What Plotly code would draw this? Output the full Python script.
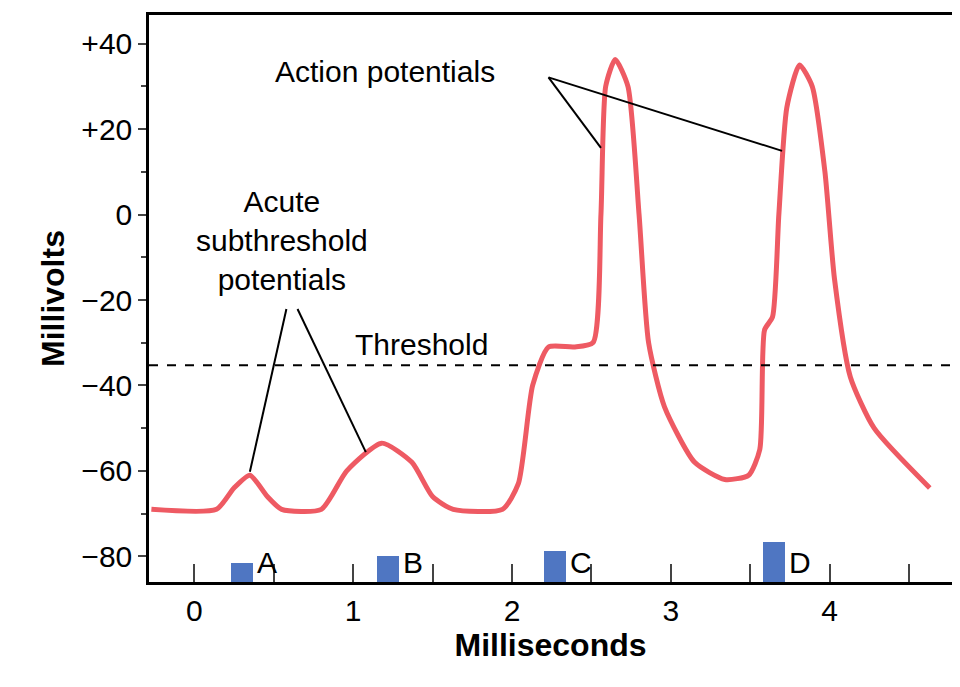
import plotly.graph_objects as go

trace_x = [-0.27,0.14,0.25,0.35,0.46,0.55,0.80,0.96,1.18,1.37,1.5,1.63,1.94,2.04,2.13,2.23,2.39,2.51,2.56,2.59,2.65,2.73,2.80,2.86,2.96,3.15,3.34,3.49,3.56,3.59,3.64,3.68,3.73,3.81,3.89,3.97,4.03,4.13,4.28,4.63]
trace_y = [-69,-69,-64,-61,-66,-69,-69,-60,-53.5,-58,-66,-69,-69,-63,-40,-31,-31,-30,0,30,36.3,30,0,-30,-45,-58,-62,-61,-55,-27,-24,0,25,35,30,10,-15,-38,-50,-64]
stim_x = [0.30,1.22,2.27,3.65]
stim_top = [-81.6,-80,-78.8,-76.7]
stim_labels = ["A","B","C","D"]
base = -86
threshold = -35.3

F = "Liberation Sans, Arial"
fig = go.Figure()
fig.add_trace(go.Bar(x=stim_x, y=[t-base for t in stim_top], base=base, width=0.14,
                     marker=dict(color="#4f76c2", line=dict(width=0)), showlegend=False))
fig.add_trace(go.Scatter(x=trace_x, y=trace_y, mode="lines", line=dict(color="#ee5a63", width=5, shape="spline", smoothing=0.6), showlegend=False))
fig.add_shape(type="line", xref="paper", x0=0, x1=1, y0=threshold, y1=threshold, line=dict(color="black", width=2, dash="dash"))
for x, t, l in zip(stim_x, stim_top, stim_labels):
    fig.add_annotation(x=x+0.08, y=-81.5, text=l, showarrow=False, xanchor="left", font=dict(size=30, family=F, color="black"))
fig.add_annotation(x=1.43, y=-30.5, text="Threshold", showarrow=False, font=dict(size=30, family=F, color="black"))
fig.add_annotation(x=1.2, y=33.5, text="Action potentials", showarrow=False, font=dict(size=30, family=F, color="black"))
fig.add_annotation(x=0.55, y=-6, text="Acute<br>subthreshold<br>potentials", showarrow=False, font=dict(size=30, family=F, color="black"))
for x0,y0,x1,y1 in [(2.23,32.1,2.56,15.6),(2.23,32.1,3.70,14.9),(0.58,-22.1,0.35,-60.2),(0.65,-22.1,1.08,-55.6)]:
    fig.add_shape(type="line", x0=x0,y0=y0,x1=x1,y1=y1, line=dict(color="black", width=2))
fig.update_layout(width=960, height=687, plot_bgcolor="white", paper_bgcolor="white",
                  margin=dict(l=141, r=16, t=4, b=113), bargap=0,
                  font=dict(family=F, size=30, color="black"))
fig.update_xaxes(range=[-0.285,4.77], tickvals=[0,1,2,3,4], ticks="inside", ticklen=18, tickwidth=2,
                 minor=dict(dtick=0.5, ticks="inside", ticklen=18, tickwidth=2, tick0=0),
                 showline=True, linewidth=2.5, linecolor="black", mirror=True, showgrid=False, zeroline=False,
                 title=dict(text="<b>Milliseconds</b>", font=dict(size=32), standoff=6))
fig.update_yaxes(range=[-86,46.7], tickvals=[40,20,0,-20,-40,-60,-80], ticktext=["+40","+20","0","−20","−40","−60","−80"],
                 ticks="outside", ticklen=8, tickwidth=2,
                 minor=dict(dtick=10, ticks="outside", ticklen=5, tickwidth=2),
                 showline=True, linewidth=2.5, linecolor="black", mirror=True, showgrid=False, zeroline=False,
                 title=dict(text="<b>Millivolts</b>", font=dict(size=32), standoff=8))
fig.write_html("out.html")
